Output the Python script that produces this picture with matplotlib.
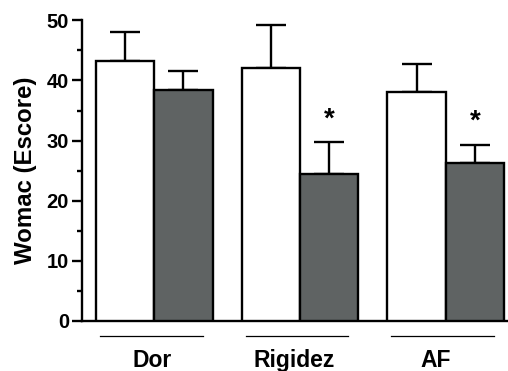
import numpy as np
import matplotlib
matplotlib.use("Agg")
import matplotlib.pyplot as plt

plt.rcParams['font.family'] = ['Liberation Sans', 'DejaVu Sans']
plt.rcParams['font.weight'] = 'bold'

# data
categories = ['Dor', 'Rigidez', 'AF']
white_means = [43.3, 42.0, 38.1]
white_err = [4.8, 7.3, 4.6]
grey_means = [38.4, 24.4, 26.3]
grey_err = [3.1, 5.3, 3.0]
significant = [False, True, True]

grey = '#5f6363'
lw = 1.7

fig = plt.figure(figsize=(5.08, 3.71), dpi=100)
ax = fig.add_axes([0.1608, 0.1348, 0.8392, 0.8105])

group = np.arange(len(categories)) * 2.5
x_white = group
x_grey = group + 1

ax.bar(x_white, white_means, width=1, color='white', edgecolor='black',
       linewidth=lw, zorder=3)
ax.bar(x_grey, grey_means, width=1, color=grey, edgecolor='black',
       linewidth=lw, zorder=3)

zeros = [0] * len(categories)
ax.errorbar(x_white, white_means, yerr=[zeros, white_err], fmt='none',
            ecolor='black', elinewidth=lw, capsize=11, capthick=lw, zorder=2)
ax.errorbar(x_grey, grey_means, yerr=[zeros, grey_err], fmt='none',
            ecolor='black', elinewidth=lw, capsize=11, capthick=lw, zorder=2)

for i, sig in enumerate(significant):
    if sig:
        ax.text(x_grey[i], grey_means[i] + grey_err[i] + 2.7, '*',
                ha='center', va='baseline', fontsize=20, fontweight='bold')

# group underlines and labels
centers = group + 0.5
label_shift = [-0.04, -0.1, -0.17]
for i, c in enumerate(centers):
    ax.plot([c - 0.05 - 0.88, c - 0.05 + 0.88], [-2.44, -2.44], color='black',
            linewidth=0.9, clip_on=False)
    ax.text(c + label_shift[i], -7.64, categories[i], ha='center',
            va='baseline', fontsize=16.5, fontweight='bold')

ax.set_xlim(-0.747, 6.57)
ax.set_ylim(0, 50)
ax.set_xticks([])
ax.set_yticks(np.arange(0, 51, 10))
ax.set_yticks(np.arange(5, 50, 10), minor=True)
ax.tick_params(axis='y', which='major', direction='out', length=7.2,
               width=lw, labelsize=14.5, pad=2)
ax.tick_params(axis='y', which='minor', direction='out', length=3.8, width=lw)
for t in ax.get_yticklabels():
    t.set_fontweight('bold')

ax.spines['top'].set_visible(False)
ax.spines['right'].set_visible(False)
ax.spines['left'].set_linewidth(lw)
ax.spines['bottom'].set_linewidth(lw)

ax.set_ylabel('Womac (Escore)', fontsize=17.3, fontweight='bold', labelpad=7)

fig.savefig('out.png', dpi=100)
